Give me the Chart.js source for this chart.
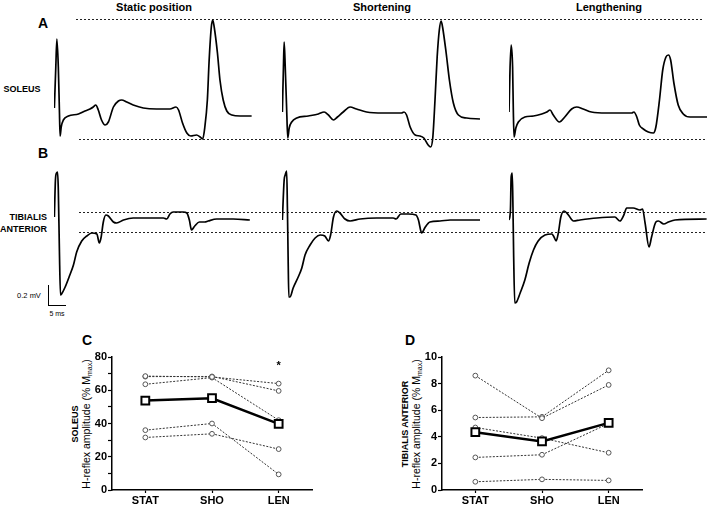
<!DOCTYPE html>
<html>
<head>
<meta charset="utf-8">
<script src="https://cdn.jsdelivr.net/npm/chart.js@4.4.1/dist/chart.umd.min.js"></script>
<style>
  body { margin: 0; background: #fff; width: 709px; height: 508px; position: relative; overflow: hidden;
         font-family: "Liberation Sans", Arial, sans-serif; color: #000; }
  canvas { position: absolute; }
  .t { position: absolute; white-space: nowrap; transform: translate(-50%, -50%); line-height: 1; }
  .b { font-weight: bold; }
  .dash { position: absolute; height: 1px;
          background: repeating-linear-gradient(to right, #222 0 2px, transparent 2px 4px); }
  .bar { position: absolute; background: #000; }
  .ytitle { position: absolute; white-space: nowrap; line-height: 1;
            transform: translate(-50%, -50%) rotate(-90deg); }
  sub { font-size: 7px; vertical-align: -2px; }
</style>
</head>
<body>

<!-- panel A / B labels -->
<div class="t b" style="left:154px;top:7px;font-size:11px">Static position</div>
<div class="t b" style="left:382px;top:7px;font-size:11px">Shortening</div>
<div class="t b" style="left:609px;top:7px;font-size:11px">Lengthening</div>
<div class="t b" style="left:43px;top:23px;font-size:14px">A</div>
<div class="t b" style="left:43px;top:153px;font-size:14px">B</div>
<div class="t b" style="left:22px;top:89px;font-size:9px">SOLEUS</div>
<div class="b" style="position:absolute;right:662px;top:211px;font-size:9px;line-height:12px;text-align:right">TIBIALIS<br>ANTERIOR</div>

<!-- dashed reference levels -->
<div class="dash" style="left:76px;width:626px;top:19px"></div>
<div class="dash" style="left:79px;width:626px;top:139px"></div>
<div class="dash" style="left:79px;width:626px;top:212px"></div>
<div class="dash" style="left:79px;width:626px;top:232px"></div>

<!-- scale bar -->
<div class="bar" style="left:48px;top:285px;width:1.3px;height:21px"></div>
<div class="bar" style="left:48px;top:304.5px;width:18px;height:1.3px"></div>
<div class="t" style="left:29px;top:296px;font-size:7.5px">0.2 mV</div>
<div class="t" style="left:57px;top:313px;font-size:7px">5 ms</div>

<canvas id="a1" width="198" height="140" style="left:54px;top:10px"></canvas>
<canvas id="a2" width="198" height="140" style="left:282px;top:10px"></canvas>
<canvas id="a3" width="198" height="140" style="left:509px;top:10px"></canvas>
<canvas id="b1" width="198" height="150" style="left:54px;top:160px"></canvas>
<canvas id="b2" width="198" height="150" style="left:282px;top:160px"></canvas>
<canvas id="b3" width="198" height="150" style="left:509px;top:160px"></canvas>

<!-- panel C / D -->
<div class="t b" style="left:87px;top:340px;font-size:14px">C</div>
<div class="t b" style="left:410px;top:340px;font-size:14px">D</div>
<div class="ytitle b" style="left:75px;top:424px;font-size:9px">SOLEUS</div>
<div class="ytitle" style="left:87px;top:424px;font-size:10.5px">H-reflex amplitude (% M<sub>max</sub>)</div>
<div class="ytitle b" style="left:405px;top:424px;font-size:9px">TIBIALIS ANTERIOR</div>
<div class="ytitle" style="left:417px;top:424px;font-size:10.5px">H-reflex amplitude (% M<sub>max</sub>)</div>

<canvas id="chartC" width="260" height="163" style="left:62px;top:345px"></canvas>
<canvas id="chartD" width="260" height="163" style="left:392px;top:345px"></canvas>

<script>
// EMG sweeps: [time after stimulus (ms), amplitude (mV)]
var soleusStatic = [[0.1,0.02],[0.5,0.43],[0.8,0.71],[1.2,0.43],[1.5,0.0],[1.7,-0.26],[2.0,-0.17],[2.6,-0.10],
  [4.0,-0.06],[6.8,-0.04],[8.6,-0.01],[10.0,0.01],[10.9,0.03],[11.6,0.05],[12.3,0.0],[13.2,-0.10],[14.2,-0.15],
  [15.1,-0.12],[16.5,0.03],[17.9,0.09],[18.8,0.10],[20.2,0.08],[22.0,0.05],[24.8,0.02],[28.5,0.01],[32.2,0.01],
  [33.9,0.03],[34.6,0.0],[35.7,-0.13],[36.9,-0.23],[38.0,-0.26],[39.6,-0.25],[40.6,-0.27],[41.3,-0.29],[41.9,-0.17],
  [42.6,0.10],[43.1,0.50],[43.7,0.83],[44.1,0.90],[44.5,0.83],[45.4,0.57],[46.1,0.30],[47.0,0.10],[48.0,-0.01],
  [49.4,-0.05],[51.7,-0.06],[54.9,-0.06]];
var soleusShort = [[0.1,-0.02],[0.4,0.43],[0.6,0.68],[0.9,0.43],[1.3,0.0],[1.6,-0.28],[2.0,-0.18],[2.7,-0.12],
  [4.1,-0.08],[7.3,-0.06],[10.1,-0.04],[11.7,-0.02],[12.9,-0.05],[14.3,-0.10],[15.4,-0.07],[17.0,-0.02],[18.9,0.03],
  [20.7,0.01],[23.5,-0.02],[28.1,-0.03],[33.2,-0.03],[33.9,-0.02],[34.6,-0.05],[35.6,-0.17],[37.0,-0.25],[38.3,-0.26],
  [39.4,-0.28],[40.6,-0.35],[41.3,-0.37],[41.9,-0.27],[42.5,0.10],[43.1,0.53],[43.7,0.80],[44.2,0.89],[44.6,0.83],
  [45.6,0.57],[46.5,0.30],[47.6,0.07],[49.0,-0.05],[51.3,-0.08],[55.0,-0.09]];
var soleusLength = [[0.0,-0.02],[0.3,0.43],[0.6,0.65],[1.0,0.43],[1.2,0.0],[1.4,-0.27],[1.9,-0.18],[2.6,-0.12],
  [4.4,-0.07],[6.8,-0.06],[9.1,-0.04],[10.5,-0.02],[11.4,0.0],[12.3,-0.05],[14.0,-0.12],[15.5,-0.07],[17.4,0.01],
  [18.8,0.03],[20.6,0.01],[22.9,-0.02],[27.1,-0.03],[34.1,-0.03],[34.7,-0.02],[35.5,-0.07],[36.2,-0.15],[37.3,-0.19],
  [38.7,-0.22],[40.1,-0.23],[40.8,-0.17],[41.8,0.10],[42.7,0.40],[43.6,0.53],[44.3,0.55],[44.9,0.50],[45.8,0.27],
  [47.0,0.05],[48.4,-0.04],[50.3,-0.07],[55.2,-0.07]];
var taStatic = [[0.1,0.03],[0.4,0.40],[0.7,0.47],[1.0,0.48],[1.2,0.30],[1.5,-0.30],[1.8,-0.75],[2.1,-0.74],
  [3.1,-0.67],[4.4,-0.55],[5.4,-0.45],[6.3,-0.32],[7.7,-0.21],[9.1,-0.16],[10.5,-0.13],[11.9,-0.14],[12.6,-0.23],
  [13.1,-0.17],[13.7,-0.02],[14.4,0.05],[15.1,0.04],[16.5,-0.02],[17.4,-0.03],[19.3,0.0],[22.0,0.02],[25.7,0.02],
  [30.4,0.02],[31.3,0.01],[32.2,0.06],[33.1,0.08],[35.9,0.08],[36.9,0.07],[37.6,0.0],[38.2,-0.10],[39.1,-0.06],
  [40.4,-0.02],[41.9,-0.02],[42.8,-0.01],[45.2,0.01],[49.8,0.01],[54.4,0.0]];
var taShort = [[0.1,0.0],[0.6,0.40],[0.9,0.45],[1.3,0.49],[1.5,0.13],[1.7,-0.37],[1.9,-0.77],[2.2,-0.77],
  [3.1,-0.68],[4.5,-0.57],[5.5,-0.48],[6.4,-0.35],[7.8,-0.25],[9.2,-0.18],[10.6,-0.15],[11.9,-0.16],[12.9,-0.21],
  [13.5,-0.15],[14.3,0.03],[15.2,0.09],[16.1,0.07],[17.5,0.01],[18.9,-0.01],[21.7,0.01],[26.3,0.02],[30.9,0.02],
  [31.7,0.01],[33.0,0.06],[35.1,0.06],[37.2,0.05],[37.9,0.0],[38.8,-0.13],[39.8,-0.07],[41.1,-0.02],[43.9,-0.01],
  [46.7,0.0],[55.0,0.0]];
var taLength = [[0.0,0.0],[0.4,0.10],[0.6,0.43],[0.9,0.47],[1.1,0.13],[1.3,-0.37],[1.6,-0.83],[2.1,-0.82],
  [3.1,-0.73],[4.4,-0.60],[5.6,-0.43],[6.8,-0.30],[8.1,-0.21],[10.0,-0.15],[11.9,-0.14],[12.5,-0.17],[13.1,-0.21],
  [13.7,-0.13],[14.4,0.03],[15.3,0.09],[16.5,0.05],[17.9,-0.01],[19.7,0.0],[24.4,0.02],[29.4,0.03],[30.8,-0.01],
  [31.9,0.05],[32.7,0.12],[34.5,0.12],[36.4,0.10],[37.1,0.11],[37.8,-0.03],[38.9,-0.27],[39.6,-0.17],[40.8,-0.02],
  [41.5,-0.01],[43.0,-0.04],[44.3,-0.02],[46.1,0.0],[54.9,0.01]];

// H-reflex amplitude (% Mmax) per condition
var conditions = ['STAT', 'SHO', 'LEN'];
var soleusMean = [53.8, 55.2, 39.8];
var soleusSubjects = [
  [68.5, 68.0, 64.0],
  [68.2, 68.3, 59.6],
  [63.6, 67.6, 42.0],
  [36.0, 40.0, 9.4],
  [31.6, 33.8, 24.6]
];
var taMean = [4.35, 3.65, 5.05];
var taSubjects = [
  [8.6, 5.4, 7.9],
  [5.45, 5.5, 9.0],
  [4.7, 3.9, 2.8],
  [2.45, 2.65, 5.0],
  [0.62, 0.8, 0.72]
];

Chart.defaults.font.family = "'Liberation Sans', Arial, sans-serif";
Chart.defaults.color = '#000';

function traceChart(id, pts, yMin, yMax) {
  new Chart(document.getElementById(id), {
    type: 'line',
    data: {
      datasets: [{
        data: pts.map(function (p) { return { x: p[0], y: p[1] }; }),
        borderColor: '#000',
        borderWidth: 1.7,
        pointRadius: 0,
        cubicInterpolationMode: 'monotone',
        clip: false
      }]
    },
    options: {
      responsive: false,
      animation: false,
      events: [],
      layout: { padding: 0 },
      plugins: { legend: { display: false }, tooltip: { enabled: false } },
      scales: {
        x: { type: 'linear', display: false, min: 0, max: 55 },
        y: { display: false, min: yMin, max: yMax }
      }
    }
  });
}

traceChart('a1', soleusStatic, -0.4, 1.0);
traceChart('a2', soleusShort, -0.4, 1.0);
traceChart('a3', soleusLength, -0.4, 1.0);
traceChart('b1', taStatic, -0.9, 0.6);
traceChart('b2', taShort, -0.9, 0.6);
traceChart('b3', taLength, -0.9, 0.6);

// asterisk over a condition
var starPlugin = {
  id: 'star',
  afterDatasetsDraw: function (chart, args, opts) {
    if (!opts.text) return;
    var ctx = chart.ctx;
    ctx.save();
    ctx.font = 'bold 11px ' + Chart.defaults.font.family;
    ctx.textAlign = 'center';
    ctx.fillStyle = '#000';
    ctx.fillText(opts.text, chart.scales.x.getPixelForValue(opts.index), chart.scales.y.getPixelForValue(opts.value));
    ctx.restore();
  }
};

function groupChart(id, mean, subjects, yMax, step, star) {
  var sets = [{
    data: mean,
    order: 0,
    borderColor: '#000',
    borderWidth: 2.5,
    pointStyle: 'rect',
    pointRadius: 5.5,
    pointBorderWidth: 2,
    pointBorderColor: '#000',
    pointBackgroundColor: '#fff'
  }];
  subjects.forEach(function (s) {
    sets.push({
      data: s,
      order: 1,
      borderColor: '#333',
      borderWidth: 1,
      borderDash: [2, 1.5],
      pointStyle: 'circle',
      pointRadius: 2.4,
      pointBorderWidth: 1,
      pointBorderColor: '#555',
      pointBackgroundColor: '#fff'
    });
  });
  new Chart(document.getElementById(id), {
    type: 'line',
    data: { labels: conditions, datasets: sets },
    options: {
      responsive: false,
      animation: false,
      events: [],
      layout: { padding: { top: 12, right: 10, left: 0, bottom: 0 } },
      plugins: { legend: { display: false }, tooltip: { enabled: false }, star: star || {} },
      scales: {
        x: {
          offset: true,
          afterFit: function (s) { s.height = 18; },
          border: { color: '#000', width: 1.5 },
          grid: { drawOnChartArea: false, offset: false, tickLength: 3, color: '#000', tickWidth: 1.2 },
          ticks: { padding: 1, font: { size: 11, weight: 'bold' } }
        },
        y: {
          min: 0, max: yMax,
          afterFit: function (s) { s.width = 50; },
          border: { color: '#000', width: 1.5 },
          grid: { drawOnChartArea: false, tickLength: 4, color: '#000', tickWidth: 1.2 },
          ticks: {
            stepSize: step / 2,
            padding: 1,
            font: { size: 11, weight: 'bold' },
            callback: function (v) { return (Math.round(v / step * 1000) % 1000 === 0) ? v : ''; }
          }
        }
      }
    },
    plugins: [starPlugin]
  });
}

groupChart('chartC', soleusMean, soleusSubjects, 80, 20, { text: '*', index: 2, value: 73 });
groupChart('chartD', taMean, taSubjects, 10, 2);
</script>
</body>
</html>
